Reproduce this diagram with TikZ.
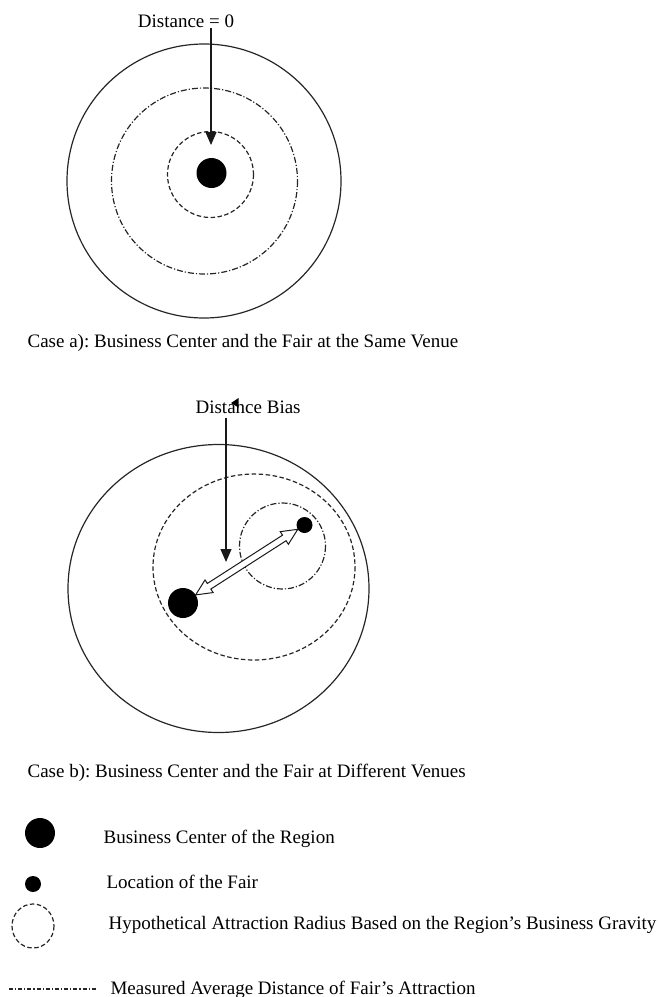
\documentclass[tikz,border=0pt]{standalone}
\usepackage{fontspec}
\setmainfont{Liberation Serif}
\usetikzlibrary{arrows.meta}
\frenchspacing
\begin{document}
\begin{tikzpicture}[x=1pt,y=-1pt,
  line width=1.2pt,
  solidring/.style={draw=black!85},
  dashring/.style={draw=black!85, dash pattern=on 4.5pt off 2.5pt},
  dotdashring/.style={draw=black!85, dash pattern=on 6pt off 2pt on 1.2pt off 2pt},
  dot/.style={circle, fill=black, inner sep=0pt, minimum size=#1},
  lbl/.style={font=\fontsize{19}{21}\selectfont, inner sep=0pt, anchor=base west, text=black},
  pointer/.style={draw=black!90, -{Triangle[width=11pt,length=13pt]}},
  hollow/.style={draw=black!90, line width=1pt, fill=white, line join=miter}
]
\useasboundingbox (0,0) rectangle (657,997);

% ---- Case a ----
\draw[solidring] (204,181) circle[radius=137];
\draw[dotdashring] (204.5,181) circle[radius=93];
\draw[dashring] (210.5,174.5) circle[radius=43];
\node[dot=30pt] (bcA) at (211.5,173) {};
\node[lbl, anchor=base] (d0) at (186,27) {Distance = 0};
\coordinate (d0tip) at (211,145);
\draw[pointer] (d0.south -| d0tip) -- (d0tip);
\node[lbl] (capA) at (27,347) {Case a): Business Center and the Fair at the Same Venue};

% ---- Case b ----
\draw[solidring] (218.5,588.5) ellipse[x radius=150.5, y radius=144];
\draw[dashring] (254,567) ellipse[x radius=101, y radius=93];
\draw[dotdashring] (282.5,546) circle[radius=43];
\node[dot=30pt] (bcB) at (183,603) {};
\node[dot=16pt] (fairB) at (304.5,525) {};
\node[lbl] (db) at (195,413) {Distance Bias};
\fill[black] (231,403) -- (238.5,398) -- (238.5,407.5) -- cycle;
\coordinate (dbtip) at (226,562);
\draw[pointer] ([yshift=-4pt]db.south -| dbtip) -- (dbtip);
\begin{scope}[shift={(bcB.center)}, rotate=32.7]
  \draw[hollow] (15,0) -- (31,7.5) -- (31,3.3) -- (120.4,3.3) -- (120.4,7.5) -- (136.4,0)
    -- (120.4,-7.5) -- (120.4,-3.3) -- (31,-3.3) -- (31,-7.5) -- cycle;
\end{scope}
\node[lbl] (capB) at (27,777) {Case b): Business Center and the Fair at Different Venues};

% ---- Legend ----
\node[dot=30pt] (legBC) at (40,833) {};
\node[lbl] (legBCt) at (103,843) {Business Center of the Region};
\node[dot=16pt] (legF) at (33,884) {};
\node[lbl] (legFt) at (106,888) {Location of the Fair};
\draw[dashring] (33,926) ellipse[x radius=21, y radius=22];
\node[lbl] (legHt) at (108,929) {Hypothetical Attraction Radius Based on the Region’s Business Gravity};
\coordinate (legMa) at (9,989);
\coordinate (legMb) at (97,989);
\draw[dotdashring, dash pattern=on 4pt off 2pt on 1.2pt off 2pt] (legMa) -- (legMb);
\node[lbl] (legMt) at (110,994) {Measured Average Distance of Fair’s Attraction};
\end{tikzpicture}
\end{document}
